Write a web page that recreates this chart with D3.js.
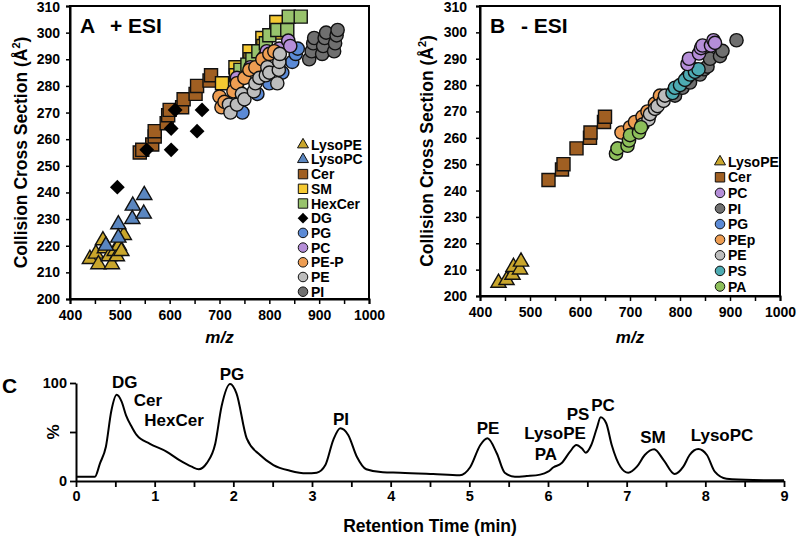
<!DOCTYPE html>
<html><head><meta charset="utf-8">
<script src="https://cdn.jsdelivr.net/npm/d3@7"></script>
<style>
body{margin:0;background:#fff}
text{font-family:"Liberation Sans",Arial,Helvetica,sans-serif;font-weight:bold;fill:#000}
</style>
</head><body>
<svg id="c" width="797" height="537"></svg>
<script>
// ---------- Panel A (+ESI) : [m/z, CCS (Å²)] ----------
const lysoPE_A = [[440,215],[452,217],[457,213],[466,222],[470,219],[478,216],[484,213],[490,218],[494,216],[498,220],[503,218],[508,224]];
const lysoPC_A = [[472,220],[497,228],[497,223],[526,235],[525,230],[549,239],[548,232]];
const cer_A = [[540,255],[545,256],[565,258],[570,261],[570,263],[594,266],[597,269],[600,271],[625,272],[628,275],[652,277],[655,280],[680,282],[683,284]];
const sm_A = [[705,281],[732,287],[733,284],[760,293],[762,290],[786,298],[788,295],[814,304],[815,300]];
const hexCer_A = [[735,281],[742,286],[756,288],[766,290],[778,293],[793,296],[800,299],[816,301],[836,301],[839,306],[863,306]];
const dg_A = [[495,242],[554,256],[603,264],[603,256],[611,271],[655,263],[665,271]];
const pg_A = [[746,270],[776,277],[800,281],[826,285],[846,289],[853,292],[857,294]];
const pc_A = [[735,283],[762,287],[790,291],[795,293],[820,294],[838,297],[842,295]];
const peP_A = [[700,276],[704,272],[710,274],[728,278],[735,281],[750,283],[760,286],[772,287],[786,290],[800,292],[810,293]];
const pe_A = [[719,273],[722,270],[735,273],[745,277],[750,275],[769,278],[772,281],[780,283],[793,284],[796,287],[800,285],[816,281],[819,286],[820,289],[821,292]];
const pi_A = [[880,290],[885,293],[888,296],[890,298],[906,292],[908,295],[911,298],[914,300],[930,293],[932,296],[935,299],[937,301]];

// ---------- Panel B (-ESI) ----------
const lysoPE_B = [[437,205],[453,206],[465,208],[467,211],[480,210],[482,213]];
const cer_B = [[537,244],[564,248],[567,250],[593,256],[620,260],[621,262],[648,266],[650,268]];
const pi_B = [[790,276],[805,279],[820,281],[840,284],[848,286],[855,287],[860,290],[880,291],[885,293],[913,297]];
const pg_B = [[815,283],[830,286]];
const peP_B = [[683,262],[700,264],[710,266],[725,268],[735,270],[750,273],[760,276]];
const pe_B = [[725,265],[737,267],[740,269],[750,271],[755,272],[767,274],[770,276]];
const ps_B = [[785,277],[790,279],[800,280],[810,282],[820,284],[830,285],[837,286]];
const pa_B = [[672,254],[675,256],[695,257],[698,259],[700,261],[718,262],[722,264]];
const pc_B = [[815,288],[818,290],[838,292],[842,294],[845,295],[862,295],[867,297],[870,296]];

const legendA = ["LysoPE","LysoPC","Cer","SM","HexCer","DG","PG","PC","PE-P","PE","PI"];
const legendB = ["LysoPE","Cer","PC","PI","PG","PEp","PE","PS","PA"];
const seriesA = {"LysoPE":lysoPE_A,"LysoPC":lysoPC_A,"Cer":cer_A,"SM":sm_A,"HexCer":hexCer_A,"DG":dg_A,"PG":pg_A,"PC":pc_A,"PE-P":peP_A,"PE":pe_A,"PI":pi_A};
const seriesB = {"LysoPE":lysoPE_B,"Cer":cer_B,"PI":pi_B,"PG":pg_B,"PEp":peP_B,"PE":pe_B,"PS":ps_B,"PA":pa_B,"PC":pc_B};
const drawOrderA = ["LysoPE","LysoPC","Cer","SM","HexCer","DG","PG","PC","PE-P","PE","PI"];
const drawOrderB = ["LysoPE","Cer","PI","PG","PEp","PE","PS","PA","PC"];
const xTicksScatter = [400,500,600,700,800,900,1000];
const yTicksScatter = [200,210,220,230,240,250,260,270,280,290,300,310];

// ---------- Panel C : chromatogram [time (min), %] ----------
const chromatogram = [[0,4.4],[0.24,4.4],[0.305,18],[0.38,35],[0.45,72],[0.517,88],[0.58,81],[0.636,67],[0.71,55],[0.77,47],[0.94,38],[1.15,30],[1.32,21],[1.47,14.6],[1.56,12],[1.66,18],[1.77,38],[1.85,76],[1.96,99],[2.04,89.5],[2.17,43.5],[2.34,26.5],[2.51,16.3],[2.72,10.5],[2.93,7.8],[3.06,8.5],[3.17,16.3],[3.27,41.8],[3.36,53.8],[3.46,47],[3.57,24.8],[3.69,12],[3.9,8.9],[4.12,8.5],[4.54,7.1],[4.88,5.8],[5.01,14],[5.14,36.7],[5.23,43.5],[5.35,28],[5.45,8.5],[5.58,4.4],[5.73,5.1],[5.9,6.5],[6.0,9.5],[6.07,14],[6.17,18],[6.28,30],[6.36,36.7],[6.43,33.3],[6.48,28.9],[6.55,36.7],[6.62,53.8],[6.67,65],[6.74,58.9],[6.81,36.7],[6.92,14.6],[7.02,8.5],[7.13,14.6],[7.23,26.5],[7.35,32.3],[7.47,21.4],[7.61,7.1],[7.72,14.6],[7.8,26.5],[7.91,32.6],[8.02,26.5],[8.12,9.5],[8.27,2.3],[8.61,1],[9,0.7]];
const peakNames = ["DG","Cer","HexCer","PG","PI","PE","LysoPE","PA","PS","PC","SM","LysoPC"];
const peakTime = [0.62,0.915,1.246,1.983,3.368,5.237,6.089,5.974,6.381,6.699,7.335,8.212];
const peakLevel = [94.9,76.5,56.1,103,57.1,48,43.0,21.0,62.2,71.4,38.8,40.8];
const xTicksC = [0,1,2,3,4,5,6,7,8,9];
const xMinorC = [0,0.5,1,1.5,2,2.5,3,3.5,4,4.5,5,5.5,6,6.5,7,7.5,8,8.5,9];
const yTicksC = [0,50,100];

// ---------- styles ----------
const style = {
  "LysoPE":{shape:"tri",color:"#c9a62c"},
  "LysoPC":{shape:"tri",color:"#5a86c0"},
  "Cer":{shape:"sq",color:"#a05f22"},
  "SM":{shape:"sq",color:"#f5c932"},
  "HexCer":{shape:"sq",color:"#98c36c"},
  "DG":{shape:"dia",color:"#000"},
  "PG":{shape:"ci",color:"#5b8ad6"},
  "PC":{shape:"ci",color:"#b58ed8"},
  "PE-P":{shape:"ci",color:"#ee9d52"},
  "PEp":{shape:"ci",color:"#ee9d52"},
  "PE":{shape:"ci",color:"#bdbdbd"},
  "PI":{shape:"ci",color:"#6f6f6f"},
  "PS":{shape:"ci",color:"#4dabb2"},
  "PA":{shape:"ci",color:"#8dbf5a"}
};
const svg = d3.select("#c");

function symPath(shape, big){
  const k = big ? 1 : 0.52;
  if(shape==="tri") return d3.symbol(d3.symbolTriangle, 100*k)();
  if(shape==="sq") return d3.symbol(d3.symbolSquare, 170*k)();
  if(shape==="dia") return d3.symbol(d3.symbolSquare, 110*k)();
  return d3.symbol(d3.symbolCircle, 138*k)();
}

function scatterPanel(o){
  const g = svg.append("g");
  const x = d3.scaleLinear().domain([400,1000]).range([o.x0,o.x1]);
  const y = d3.scaleLinear().domain([200,310]).range([o.y0,o.y1]);
  g.append("rect").attr("x",o.x0).attr("y",o.y1).attr("width",o.x1-o.x0).attr("height",o.y0-o.y1)
    .attr("fill","none").attr("stroke","#000").attr("stroke-width",2);
  const xa = g.append("g").attr("transform",`translate(0,${o.y0})`)
    .call(d3.axisBottom(x).tickValues(d3.range(400,1001,50)).tickSize(5).tickFormat(d=>xTicksScatter.includes(d)?d:""));
  const ya = g.append("g").attr("transform",`translate(${o.x0},0)`)
    .call(d3.axisLeft(y).tickValues(yTicksScatter).tickSize(4).tickPadding(o.ypad));
  [xa,ya].forEach(a=>{
    a.select(".domain").attr("stroke-width",2);
    a.selectAll("line").attr("stroke-width",1.5);
    a.selectAll("text").style("font-size","14px").style("font-family","'Liberation Sans',Arial,sans-serif").style("font-weight","bold").attr("fill","#000");
  });
  xa.selectAll("text").attr("dy","0.95em").attr("y",8);
  ya.selectAll(".tick").filter(d=>d===310).select("text").attr("y",1.5);
  o.order.forEach(name=>{
    const st = style[name];
    g.append("g").selectAll("path").data(o.series[name]).join("path")
      .attr("d",symPath(st.shape,true))
      .attr("transform",d=>`translate(${x(d[0])},${y(d[1])})`+(st.shape==="dia"?" rotate(45)":""))
      .attr("fill",st.color)
      .attr("stroke",st.shape==="dia"?"none":"#111")
      .attr("stroke-width",1.4);
  });
  o.legend.forEach((name,i)=>{
    const st = style[name];
    const cy = o.ly + i*o.lstep;
    g.append("path").attr("d",symPath(st.shape,false))
      .attr("transform",`translate(${o.lx},${cy})`+(st.shape==="dia"?" rotate(45)":""))
      .attr("fill",st.color).attr("stroke",st.shape==="dia"?"none":"#111").attr("stroke-width",1);
    g.append("text").attr("x",o.lx+8).attr("y",cy+5).style("font-size","14px").text(name);
  });
  g.append("text").attr("x",o.x0+10).attr("y",33).style("font-size","21px").text(o.letter);
  g.append("text").attr("x",o.x0+o.tOff).attr("y",33).style("font-size","21px").text(o.mode);
  g.append("text").attr("x",(o.x0+o.x1)/2).attr("y",343).attr("text-anchor","middle")
    .style("font-size","17px").style("font-style","italic").text("m/z");
  const yt = g.append("text").attr("transform",`translate(${o.ytx},${(o.y0+o.y1)/2}) rotate(-90)`)
    .attr("text-anchor","middle").style("font-size","17.5px");
  yt.append("tspan").text("Collision Cross Section (Å");
  yt.append("tspan").attr("dy",-7).style("font-size","11px").text("2");
  yt.append("tspan").attr("dy",7).text(")");
}

scatterPanel({x0:70,x1:369,y0:299,y1:6,ypad:6,series:seriesA,order:drawOrderA,legend:legendA,
  lx:303,ly:144.7,lstep:14.7,letter:"A",mode:"+ ESI",tOff:40,ytx:27});
scatterPanel({x0:480,x1:780,y0:296,y1:6,ypad:9,series:seriesB,order:drawOrderB,legend:legendB,
  lx:720,ly:161.7,lstep:15.6,letter:"B",mode:"- ESI",tOff:41,ytx:433});

// ---------- Panel C ----------
(function(){
  const g = svg.append("g");
  const x = d3.scaleLinear().domain([0,9]).range([76,784]);
  const y = d3.scaleLinear().domain([0,100]).range([481,383]);
  const xa = g.append("g").attr("transform","translate(0,481)")
    .call(d3.axisBottom(x).tickValues(xMinorC).tickSize(6).tickSizeOuter(0).tickFormat(d=>xTicksC.includes(d)?d:""));
  const ya = g.append("g").attr("transform","translate(76,0)")
    .call(d3.axisLeft(y).tickValues(yTicksC).tickSize(6).tickSizeOuter(0).tickFormat(d=>d===50?"":d));
  [xa,ya].forEach(a=>{
    a.select(".domain").attr("stroke-width",2);
    a.selectAll("line").attr("stroke-width",1.8);
    a.selectAll("text").style("font-size","14.5px").style("font-family","'Liberation Sans',Arial,sans-serif").style("font-weight","bold").attr("fill","#000");
  });
  xa.selectAll("text").attr("y",10);
  g.append("path").datum(chromatogram)
    .attr("d",d3.line().x(d=>x(d[0])).y(d=>y(d[1])).curve(d3.curveMonotoneX))
    .attr("fill","none").attr("stroke","#000").attr("stroke-width",2);
  g.selectAll("text.pk").data(peakNames).join("text").attr("class","pk")
    .attr("x",(d,i)=>x(peakTime[i])).attr("y",(d,i)=>y(peakLevel[i]))
    .attr("text-anchor","middle").style("font-size","17px").text(d=>d);
  g.append("text").attr("transform",`translate(59,${y(50)}) rotate(-90)`).attr("text-anchor","middle")
    .style("font-size","17px").text("%");
  g.append("text").attr("x",2).attr("y",393).style("font-size","21px").text("C");
  g.append("text").attr("x",(x(0)+x(9))/2).attr("y",532).attr("text-anchor","middle")
    .style("font-size","17.5px").text("Retention Time (min)");
})();
</script>
</body></html>
